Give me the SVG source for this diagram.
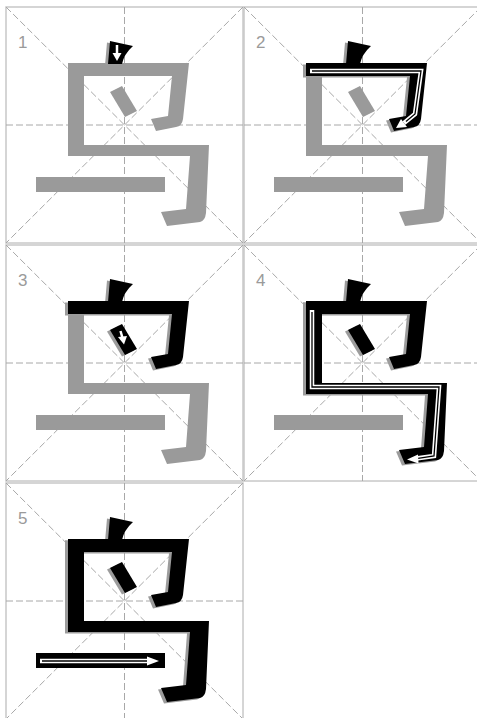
<svg xmlns="http://www.w3.org/2000/svg" width="477" height="718" viewBox="0 0 477 718">
<style>
.g{fill:#9a9a9a}
.k{fill:#000}
.sh{fill:#9c9c9c}
.border{fill:none;stroke:#c8c8c8;stroke-width:1.5}
.dash{fill:none;stroke:#a8a8a8;stroke-width:1;stroke-dasharray:7 3}
.num{font-family:"Liberation Sans",Arial,sans-serif;font-size:17px;fill:#9a9a9a}
.aw{fill:none;stroke:#fff;stroke-width:4.5;stroke-linejoin:miter}
.ak{fill:none;stroke:#000;stroke-width:1.3;stroke-linejoin:miter}
.as{fill:none;stroke:#fff;stroke-width:2.5}
.ah{fill:#fff}
</style>
<defs>
<g id="grid">
<rect x="0" y="0" width="237" height="236" class="border"/>
<path class="dash" d="M118.5,0 V236 M0,118 H237 M0,0 L237,236 M237,0 L0,236"/>
</g>
<path id="s1" d="M104,34 L127,39 Q118,47 116,57 L102,57 Z"/>
<path id="s2" d="M62,56 H183 L177,112 Q176,119 170,120 L150,124 L145,112 L162,109 L166,69 H62 Z"/>
<path id="s3" d="M104,85 L116,79 L131,104 L119,110 Z"/>
<path id="s4" d="M62,56 H78 V138 H203 L200,206 Q199,214 194,215 L161,219 L155,205 L180,202 L184,149 H62 Z"/>
<rect id="s5" x="30" y="170" width="129" height="15"/>
</defs>
<rect x="0" y="0" width="477" height="718" fill="#fff"/>

<g id="cell1" transform="translate(6,7)">
<use href="#grid"/>
<text class="num" x="12" y="41">1</text>
<use href="#s2" class="g"/><use href="#s3" class="g"/><use href="#s4" class="g"/><use href="#s5" class="g"/>
<use href="#s1" class="sh" transform="translate(-3,1.5)"/>
<use href="#s1" class="k"/>
<g id="arrow1">
<path class="as" d="M111,38 V47"/>
<polygon class="ah" points="106.5,46 115.5,46 111,54"/>
</g>
</g>

<g id="cell2" transform="translate(244,7)">
<use href="#grid"/>
<text class="num" x="12" y="41">2</text>
<use href="#s3" class="g"/><use href="#s4" class="g"/><use href="#s5" class="g"/>
<use href="#s1" class="sh" transform="translate(-3,1.5)"/>
<use href="#s2" class="sh" transform="translate(-3,1.5)"/>
<use href="#s1" class="k"/><use href="#s2" class="k"/>
<g id="arrow2">
<path class="aw" d="M66,64 H177 L171,107 L160,116"/>
<path class="ak" d="M68,64 H177 L171,107 L162,114.5"/>
<polygon class="ah" points="152,121 163,120 157,112"/>
</g>
</g>

<g id="cell3" transform="translate(6,245)">
<use href="#grid"/>
<text class="num" x="12" y="41">3</text>
<use href="#s4" class="g"/><use href="#s5" class="g"/>
<use href="#s1" class="sh" transform="translate(-3,1.5)"/>
<use href="#s2" class="sh" transform="translate(-3,1.5)"/>
<use href="#s3" class="sh" transform="translate(-3,1.5)"/>
<use href="#s1" class="k"/><use href="#s2" class="k"/><use href="#s3" class="k"/>
<g id="arrow3">
<path class="as" d="M114.5,86 L116.5,93"/>
<polygon class="ah" points="112,92 121,91 118,99.5"/>
</g>
</g>

<g id="cell4" transform="translate(244,245)">
<use href="#grid"/>
<text class="num" x="12" y="41">4</text>
<use href="#s5" class="g"/>
<use href="#s1" class="sh" transform="translate(-3,1.5)"/>
<use href="#s2" class="sh" transform="translate(-3,1.5)"/>
<use href="#s3" class="sh" transform="translate(-3,1.5)"/>
<use href="#s4" class="sh" transform="translate(-3,1.5)"/>
<use href="#s1" class="k"/><use href="#s2" class="k"/><use href="#s3" class="k"/><use href="#s4" class="k"/>
<g id="arrow4">
<path class="aw" d="M68,65 V142 H195 L190,211 L172,213.5"/>
<path class="ak" d="M68,67 V142 H195 L190,211 L174,213.3"/>
<polygon class="ah" points="163,214.5 174,209.5 174.5,218.5"/>
</g>
</g>

<g id="cell5" transform="translate(6,483)">
<use href="#grid"/>
<text class="num" x="12" y="41">5</text>
<use href="#s1" class="sh" transform="translate(-3,1.5)"/>
<use href="#s2" class="sh" transform="translate(-3,1.5)"/>
<use href="#s3" class="sh" transform="translate(-3,1.5)"/>
<use href="#s4" class="sh" transform="translate(-3,1.5)"/>
<use href="#s1" class="k"/><use href="#s2" class="k"/><use href="#s3" class="k"/><use href="#s4" class="k"/><use href="#s5" class="k"/>
<g id="arrow5">
<path class="aw" d="M34,178 H142"/>
<path class="ak" d="M36,178 H141"/>
<polygon class="ah" points="141,173.5 141,182.5 153,178"/>
</g>
</g>
</svg>
